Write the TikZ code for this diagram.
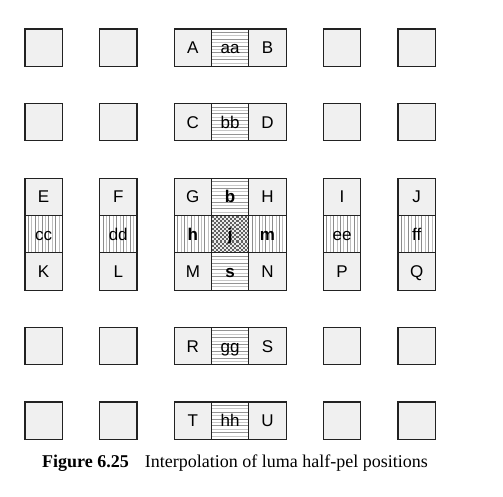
\documentclass[tikz,border=0pt]{standalone}
\usepackage{fontspec}
\setmainfont{Liberation Sans}
\newfontfamily\capfont{Liberation Serif}
\definecolor{boxfill}{HTML}{F0F0F0}
\definecolor{boxline}{HTML}{222222}
\begin{document}
\begin{tikzpicture}[x=1pt,y=-1pt,
  cell/.style={draw=boxline, line width=1.2pt, inner sep=0pt, minimum size=37.3pt,
    text height=12pt, text depth=0pt,
    font=\fontsize{17}{19}\selectfont},
  pel/.style={cell, fill=boxfill},
  hstripe/.style={cell, fill=white, path picture={
      \foreach \k in {1,...,10}{
        \pgfmathtruncatemacro\cc{mod(\k,2)==0 ? 22 : 42}
        \draw[black!\cc, line width=0.9pt]
          ([yshift=-\k*3.4pt]path picture bounding box.north west) --
          ([yshift=-\k*3.4pt]path picture bounding box.north east);
      }}},
  vstripe/.style={cell, fill=white, path picture={
      \foreach \k in {1,...,10}{
        \pgfmathtruncatemacro\cc{mod(\k,2)==0 ? 25 : 45}
        \draw[black!\cc, line width=0.9pt]
          ([xshift=\k*3.4pt]path picture bounding box.north west) --
          ([xshift=\k*3.4pt]path picture bounding box.south west);
      }}},
  checker/.style={cell, fill=black!8, path picture={
      \foreach \a in {0,...,17}{
        \foreach \c in {0,...,17}{
          \pgfmathtruncatemacro\p{mod(\a+\c,2)}
          \ifnum\p=0
            \fill[black!62] ([xshift=\a*2.08pt, yshift=-\c*2.08pt]path picture bounding box.north west) rectangle ++(2.08,2.08);
          \fi
        }}}},
  bold/.style={font=\fontsize{17}{19}\selectfont\bfseries}
]
\useasboundingbox (0,0) rectangle (503,497);
% plain integer boxes
\foreach \x/\n in {43.65/a,118.25/b,342.05/e,416.65/f}{
  \foreach \y/\m in {47.65/0,122.25/1,346.05/4,420.65/5}{
    \node[pel] (p\n\m) at (\x,\y) {};
  }}
% row 0
\node[pel] (A) at (192.85,47.65) {A};
\node[hstripe] (aa) at (230.15,47.65) {aa};
\node[pel] (B) at (267.45,47.65) {B};
% row 1
\node[pel] (C) at (192.85,122.25) {C};
\node[hstripe] (bb) at (230.15,122.25) {bb};
\node[pel] (D) at (267.45,122.25) {D};
% row 2
\node[pel] (E) at (43.65,196.85) {E};
\node[pel] (F) at (118.25,196.85) {F};
\node[pel] (G) at (192.85,196.85) {G};
\node[hstripe,bold] (b) at (230.15,196.85) {b};
\node[pel] (H) at (267.45,196.85) {H};
\node[pel] (I) at (342.05,196.85) {I};
\node[pel] (J) at (416.65,196.85) {J};
% half row
\node[vstripe] (cc) at (43.65,234.15) {cc};
\node[vstripe] (dd) at (118.25,234.15) {dd};
\node[vstripe,bold] (h) at (192.85,234.15) {h};
\node[checker,bold] (j) at (230.15,234.15) {j};
\node[vstripe,bold] (m) at (267.45,234.15) {m};
\node[vstripe] (ee) at (342.05,234.15) {ee};
\node[vstripe] (ff) at (416.65,234.15) {ff};
% row 3
\node[pel] (K) at (43.65,271.45) {K};
\node[pel] (L) at (118.25,271.45) {L};
\node[pel] (M) at (192.85,271.45) {M};
\node[hstripe,bold] (s) at (230.15,271.45) {s};
\node[pel] (N) at (267.45,271.45) {N};
\node[pel] (P) at (342.05,271.45) {P};
\node[pel] (Q) at (416.65,271.45) {Q};
% row 4
\node[pel] (R) at (192.85,346.05) {R};
\node[hstripe] (gg) at (230.15,346.05) {gg};
\node[pel] (S) at (267.45,346.05) {S};
% row 5
\node[pel] (T) at (192.85,420.65) {T};
\node[hstripe] (hh) at (230.15,420.65) {hh};
\node[pel] (U) at (267.45,420.65) {U};
% caption
\node[anchor=base west, inner sep=0pt, font=\capfont\fontsize{18}{20}\selectfont] (cap) at (42,467)
  {\textbf{Figure 6.25}\hspace{16pt}Interpolation of luma half-pel positions};
\end{tikzpicture}
\end{document}
